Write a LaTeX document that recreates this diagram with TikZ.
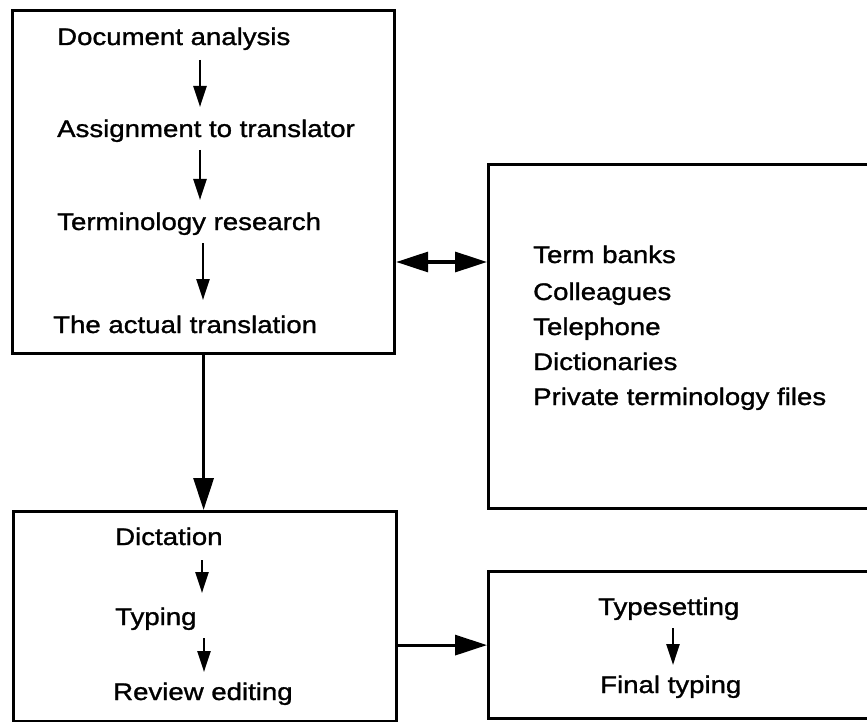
\documentclass[tikz,border=0pt]{standalone}
\usepackage{fontspec}
\setmainfont{Liberation Sans}[FakeStretch=1.15]
% regular glyphs, slightly thickened, for the printed labels
\newfontfamily\labelfont{Liberation Sans}[FakeStretch=1.15, FakeBold=1.2]
\usetikzlibrary{arrows.meta}

\begin{document}
\begin{tikzpicture}[x=1pt, y=-1pt,
  box/.style={draw, line width=3.2pt, rectangle, inner sep=0pt, anchor=north west},
  label/.style={anchor=base west, inner sep=0pt, font=\labelfont\fontsize{24}{28}\selectfont},
  smallarrow/.style={line width=2.4pt, -{Triangle[length=21pt, width=13pt]}},
  bigarrow/.style={line width=3.2pt, -{Triangle[length=32pt, width=20pt]}},
  twoway/.style={line width=3.2pt, {Triangle[length=32pt, width=20pt]}-{Triangle[length=32pt, width=20pt]}}
]
\useasboundingbox[fill=white] (0,0) rectangle (867,722);

% boxes
\node[box, minimum width=382pt, minimum height=343pt] (A) at (11,9) {};
\node[box, minimum width=383pt, minimum height=210pt] (B) at (12,510) {};
\node[box, minimum width=413pt, minimum height=344pt] (R) at (487,163) {};
\node[box, minimum width=413pt, minimum height=147pt] (S) at (487,570) {};

% translation stages
\node[label] (t1) at (57,45) {Document analysis};
\node[label] (t2) at (57,137) {Assignment to translator};
\node[label] (t3) at (57,230) {Terminology research};
\node[label] (t4) at (53,333) {The actual translation};

% terminology sources
\node[label] (r1) at (533,263) {Term banks};
\node[label] (r2) at (533,300) {Colleagues};
\node[label] (r3) at (533,335) {Telephone};
\node[label] (r4) at (533,370) {Dictionaries};
\node[label] (r5) at (533,405) {Private terminology files};

% production stages
\node[label] (b1) at (115,545) {Dictation};
\node[label] (b2) at (115,625) {Typing};
\node[label] (b3) at (113,700) {Review editing};

\node[label] (s1) at (598,615) {Typesetting};
\node[label] (s2) at (600,693) {Final typing};

% arrow end points inside the boxes
\coordinate (a1s) at (200,60);  \coordinate (a1e) at (200,107);
\coordinate (a2s) at (200,150); \coordinate (a2e) at (200,200);
\coordinate (a3s) at (203,243); \coordinate (a3e) at (203,300);
\coordinate (b1s) at (202,560); \coordinate (b1e) at (202,593);
\coordinate (b2s) at (204,638); \coordinate (b2e) at (204,672);
\coordinate (s1s) at (673,628); \coordinate (s1e) at (673,665);
\coordinate (dbl) at (440,262);

\draw[smallarrow] (a1s) -- (a1e);
\draw[smallarrow] (a2s) -- (a2e);
\draw[smallarrow] (a3s) -- (a3e);
\draw[smallarrow] (b1s) -- (b1e);
\draw[smallarrow] (b2s) -- (b2e);
\draw[smallarrow] (s1s) -- (s1e);

% connectors between boxes
\draw[bigarrow] (A.south) -- (A.south |- B.north);
\draw[bigarrow] (B.east |- S.west) -- (S.west);
\draw[twoway] (A.east |- dbl) -- (R.west |- dbl);
\end{tikzpicture}
\end{document}
